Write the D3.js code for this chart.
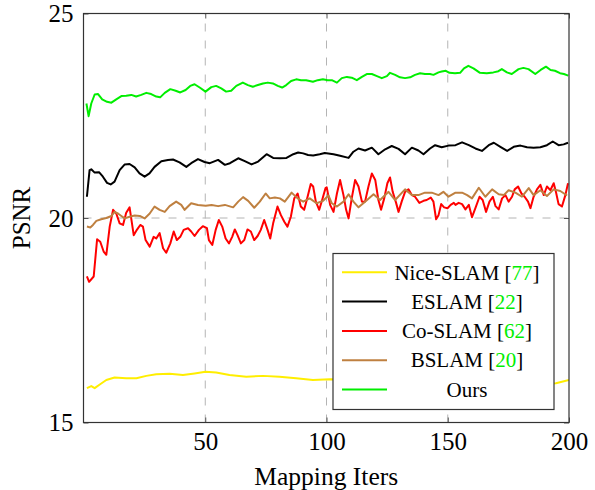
<!DOCTYPE html>
<html><head><meta charset="utf-8">
<script src="https://cdn.jsdelivr.net/npm/d3@7"></script>
<style>html,body{margin:0;padding:0;background:#fff;}svg{display:block;}</style>
</head><body><svg id="chart" width="595" height="490"></svg>
<script>
// ---- data ----
const xTicks = [50, 100, 150, 200];
const yTicks = [15, 20, 25];
const xLabel = "Mapping Iters";
const yLabel = "PSNR";

const niceIters = [1.2,3,4.4,6.5,9.2,12.6,17.4,21.6,25.7,29.8,35.3,40.8,45.6,50.1,54.5,60,66.9,73.8,80.6,87.5,94.4,101.3,110,125,140,155,170,185,194.6,200];
const niceVals  = [15.84,15.89,15.84,15.93,16.04,16.10,16.08,16.08,16.14,16.18,16.19,16.16,16.20,16.24,16.22,16.16,16.12,16.14,16.12,16.08,16.04,16.06,16.05,16.02,15.99,15.96,15.94,15.93,15.96,16.04];

const eslamIters = [1.2,2.3,3,4.4,6.2,7.8,9.5,11,12.6,14.7,16.8,18.8,20.9,22.9,25,27,29.1,31.9,34.6,36.7,39.4,42.2,44.2,47,49.7,51.9,55.3,58.1,60.2,63.6,66.3,69.1,71.8,75.3,78,80.8,83.5,86.3,88.3,90.4,92.4,94.5,97.2,99.3,102.9,105.6,109.1,111.1,113.2,115.9,118.7,121.4,124.2,126.9,129.7,132.4,135.2,137.9,140,142.7,144.8,147.5,150.3,153.2,155.9,158.7,161.4,164.1,166.9,169,171.7,174.5,177.2,180,182.7,185.4,188.2,190.9,193.3,195.7,197.8,199.6];
const eslamVals  = [20.52,21.17,21.19,21.11,21.12,21.01,20.86,20.82,20.89,21.17,21.31,21.32,21.24,21.09,21.01,21.09,21.25,21.39,21.42,21.43,21.36,21.25,21.34,21.44,21.37,21.34,21.42,21.30,21.34,21.46,21.39,21.31,21.38,21.56,21.47,21.46,21.47,21.56,21.60,21.58,21.54,21.53,21.56,21.59,21.56,21.52,21.47,21.62,21.70,21.65,21.72,21.56,21.68,21.76,21.69,21.56,21.72,21.65,21.56,21.70,21.78,21.73,21.77,21.78,21.85,21.78,21.70,21.64,21.78,21.84,21.74,21.64,21.74,21.77,21.73,21.72,21.73,21.78,21.87,21.78,21.80,21.84];

const coIters = [1.2,2.1,4,5.4,6.7,8.1,9.2,10.6,12,13.3,14.7,16.1,17.4,18.8,20.5,21.8,23.2,24.3,25.4,27.1,28.7,29.8,31.2,32.6,33.9,35.6,37,38.3,39.7,41.1,42.9,44.2,45.6,47.4,49,50.7,51.5,52.9,54.3,55.6,57,58.4,59.8,61.1,62.2,63.3,64.7,66.1,67.4,68.8,70.2,71.6,72.9,74.3,75.7,76.8,78,79.8,81.2,82.6,83.9,85.3,86.7,88.1,89.4,90.8,92.2,93.5,94.5,95.6,97,98.2,99.6,100.1,101.5,102.9,104.3,105.6,107,108.1,109.1,110.4,111.8,113.2,114.6,115.9,117.3,118.7,120.1,121.4,122.5,123.8,125.1,126.2,127.3,128.7,129.7,131,132.4,133.8,135.2,136.5,138.3,140,141.3,143,144.1,145.2,146.2,147.3,148.5,149.9,151.2,152.5,153.2,154.5,155.9,157.3,158.7,160,161.4,163.1,164.4,165.8,167.2,168.6,169.7,171,172.4,173.8,175.1,176.5,177.6,179,180.4,181.7,183.1,184.1,185.4,186.8,188.2,189.6,190.9,192.3,193.7,194.6,195.7,197.1,198.5,199.6];
const coVals  = [18.57,18.44,18.57,19.48,19.42,19.18,19.10,19.79,20.20,20.11,19.87,19.83,20.13,20.26,19.58,19.71,19.83,19.79,19.46,19.30,19.54,19.50,19.63,19.26,19.15,19.38,19.67,19.46,19.54,19.71,19.75,19.67,19.56,19.71,19.80,19.75,19.46,19.34,19.71,19.95,19.79,19.50,19.38,19.54,19.72,19.58,19.38,19.46,19.72,19.67,19.46,19.56,19.71,19.95,19.71,19.50,19.87,20.28,20.07,19.91,19.79,20.03,20.48,20.60,20.28,20.20,20.52,20.83,20.77,20.40,20.20,20.44,20.73,20.75,20.32,20.15,20.60,20.93,20.56,20.20,19.99,20.48,20.93,20.77,20.40,20.40,20.77,21.09,20.93,20.44,20.20,20.48,20.85,20.99,20.64,20.37,20.15,20.40,20.64,20.70,20.56,20.52,20.37,20.42,20.44,20.50,20.40,19.97,20.07,20.34,20.26,20.24,20.32,20.37,20.32,20.37,20.34,20.21,20.32,20.02,20.24,20.52,20.44,20.15,20.40,20.52,20.29,20.21,20.48,20.56,20.40,20.52,20.70,20.77,20.60,20.52,20.40,20.24,20.52,20.70,20.81,20.56,20.77,20.68,20.85,20.64,20.34,20.28,20.56,20.85];

const bIters = [1.2,2.6,3.7,5.1,7.1,9.2,11.3,12.6,14,15.4,16.8,18.8,20.9,23,25,27.1,29.1,31.2,33.3,35.3,38,40.1,41.5,44.2,47,50.2,52.6,55.3,58.1,61.5,63.6,65.6,67.7,70.2,72.5,74.9,76.6,78.7,80.8,82.8,85.6,88.1,90.4,93.1,95.9,98.6,100.8,102.2,104.3,107,109.1,111.1,113.2,115.9,119.4,122.1,125.6,128.3,132.4,135.2,137.9,140.6,143.4,146.2,148.2,150.3,153.2,155.9,158,160,162.8,165.5,168.3,171,173.1,175.1,177.9,180.6,183.4,185.4,188.2,190.9,193.7,196.4,199.2];
const bVals  = [19.79,19.77,19.83,19.93,19.97,20.00,20.05,20.15,20.11,20.05,19.99,20.03,20.06,20.05,19.99,20.11,20.28,20.20,20.15,20.29,20.40,20.32,20.20,20.36,20.32,20.30,20.32,20.29,20.32,20.26,20.40,20.51,20.42,20.25,20.40,20.60,20.48,20.50,20.48,20.40,20.62,20.48,20.40,20.48,20.36,20.42,20.55,20.36,20.28,20.40,20.58,20.40,20.26,20.40,20.58,20.44,20.64,20.44,20.70,20.56,20.56,20.62,20.62,20.56,20.64,20.52,20.62,20.62,20.56,20.48,20.74,20.52,20.70,20.58,20.56,20.68,20.62,20.52,20.73,20.56,20.68,20.54,20.70,20.66,20.55];

const oursIters = [1,1.9,3,4.4,5.8,7.5,9.5,11.3,13.3,15.4,17.4,19.5,21.5,23.6,25.7,27.7,29.8,31.4,33.3,35.6,37.8,39.7,41.9,43.8,45.6,47.7,50.1,52.5,54.5,56.6,58.6,60.7,62.8,65.5,67.6,69.6,71.7,73.8,75.8,77.9,79.9,81.7,83.4,85.4,87.5,89.5,91.6,94.4,96.4,98.5,100.5,102.2,104.3,106.3,108.4,110.4,112.5,114.6,116.6,118.7,120.8,122.8,124.9,126.2,128.3,130.3,132.4,134.5,136.5,138.6,140.6,142.7,144.1,146.2,147.5,149.2,150.7,153,155.1,156.7,158.5,160.6,163.3,166.1,168.8,170.9,172.3,174.4,176.4,179.2,181.2,183.3,186.1,188.3,190.5,192.4,194.2,196.3,197.9,199.7];
const oursVals  = [22.80,22.49,22.80,23.02,23.03,22.90,22.84,22.82,22.90,22.98,22.99,23.01,22.97,23.01,23.06,23.03,22.97,22.95,23.06,23.15,23.11,23.07,23.13,23.23,23.27,23.19,23.09,23.20,23.23,23.17,23.09,23.11,23.23,23.31,23.25,23.21,23.25,23.29,23.31,23.29,23.23,23.19,23.25,23.35,23.39,23.37,23.37,23.33,23.37,23.39,23.37,23.37,23.31,23.42,23.45,23.43,23.37,23.45,23.52,23.52,23.47,23.42,23.47,23.55,23.50,23.44,23.42,23.44,23.50,23.54,23.52,23.52,23.50,23.56,23.58,23.60,23.55,23.54,23.55,23.66,23.72,23.66,23.55,23.54,23.56,23.59,23.64,23.56,23.52,23.64,23.67,23.64,23.52,23.62,23.70,23.62,23.60,23.54,23.52,23.48];

const seriesNames = ["Nice-SLAM", "ESLAM", "Co-SLAM", "BSLAM", "Ours"];
const seriesRefs  = ["77", "22", "62", "20", ""];
const seriesColors = ["#ffee00", "#000000", "#ff0000", "#bf8040", "#00ee00"];

// ---- build ----
const series = [
  {iters: niceIters, vals: niceVals},
  {iters: eslamIters, vals: eslamVals},
  {iters: coIters, vals: coVals},
  {iters: bIters, vals: bVals},
  {iters: oursIters, vals: oursVals}
].map((s, i) => ({name: seriesNames[i], ref: seriesRefs[i], color: seriesColors[i],
  pts: s.iters.map((x, j) => [x, s.vals[j]])}));

const L = 83.5, R = 569, T = 13.5, B = 422.5;
const svg = d3.select("#chart");
const x = d3.scaleLinear().domain([0, 200]).range([L + 0.5, R]);
const y = d3.scaleLinear().domain([15, 25]).range([B, T]);
const serif = "'Liberation Serif','Times New Roman',serif";

svg.append("defs").append("clipPath").attr("id", "clip")
  .append("rect").attr("x", L).attr("y", T).attr("width", R - L).attr("height", B - T);

// grid
const grid = svg.append("g").attr("stroke", "#b4b4b4").attr("stroke-width", 1).attr("stroke-dasharray", "8,9");
xTicks.filter(t => t < 200).forEach(t => grid.append("line")
  .attr("x1", x(t)).attr("x2", x(t)).attr("y1", B).attr("y2", T));
yTicks.filter(t => t > 15 && t < 25).forEach(t => grid.append("line")
  .attr("y1", y(t)).attr("y2", y(t)).attr("x1", L).attr("x2", R));

// lines
const line = d3.line().x(d => x(d[0])).y(d => y(d[1]));
const lg = svg.append("g").attr("clip-path", "url(#clip)");
series.forEach(s => lg.append("path").attr("d", line(s.pts))
  .attr("fill", "none").attr("stroke", s.color).attr("stroke-width", 2)
  .attr("stroke-linejoin", "round"));

// axes via d3
const xAxisB = d3.axisBottom(x).tickValues(xTicks).tickSize(-5).tickPadding(12).tickFormat(d3.format("d"));
const xAxisT = d3.axisTop(x).tickValues(xTicks).tickSize(-5).tickFormat("");
const yAxisL = d3.axisLeft(y).tickValues(yTicks).tickSize(-5).tickPadding(14).tickFormat(d3.format("d"));
const yAxisR = d3.axisRight(y).tickValues(yTicks).tickSize(-5).tickFormat("");
function style(g) {
  g.selectAll(".domain").remove();
  g.selectAll(".tick line").attr("stroke", "#555").attr("stroke-width", 1);
  g.selectAll("text").attr("font-family", serif).attr("font-size", 25).attr("fill", "#000");
}
svg.append("g").attr("transform", `translate(0,${B})`).call(xAxisB).call(style)
  .selectAll("text").attr("dy", null).attr("y", 27.5);
svg.append("g").attr("transform", `translate(0,${T})`).call(xAxisT).call(style);
svg.append("g").attr("transform", `translate(${L},0)`).call(yAxisL).call(style)
  .selectAll("text").attr("x", -10).attr("dy", "0.33em");
svg.append("g").attr("transform", `translate(${R},0)`).call(yAxisR).call(style);

// frame
svg.append("rect").attr("x", L).attr("y", T).attr("width", R - L).attr("height", B - T)
  .attr("fill", "none").attr("stroke", "#333").attr("stroke-width", 1.2);

// axis labels
svg.append("text").attr("x", (L + R) / 2).attr("y", 485).attr("text-anchor", "middle")
  .attr("font-family", serif).attr("font-size", 25.5).text(xLabel);
svg.append("text").attr("transform", "translate(30,218) rotate(-90)").attr("text-anchor", "middle")
  .attr("font-family", serif).attr("font-size", 25).text(yLabel);

// legend
const leg = svg.append("g");
leg.append("rect").attr("x", 333).attr("y", 253.5).attr("width", 221).attr("height", 156)
  .attr("fill", "#fff").attr("stroke", "#333").attr("stroke-width", 1.2);
series.forEach((s, i) => {
  const yy = 272.3 + i * 29.3;
  leg.append("line").attr("x1", 342).attr("x2", 387).attr("y1", yy).attr("y2", yy)
    .attr("stroke", s.color).attr("stroke-width", 2);
  const t = leg.append("text").attr("x", 467).attr("y", yy + 7.2).attr("text-anchor", "middle")
    .attr("font-family", serif).attr("font-size", 21).attr("fill", "#000");
  t.append("tspan").text(s.name);
  if (s.ref) {
    t.append("tspan").text(" [");
    t.append("tspan").attr("fill", "#00ee00").text(s.ref);
    t.append("tspan").text("]");
  }
});
</script></body></html>
